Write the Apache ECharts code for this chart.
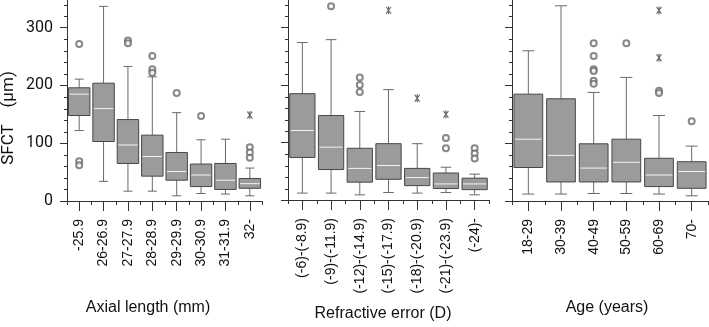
<!DOCTYPE html>
<html>
<head>
<meta charset="utf-8">
<script src="https://cdn.jsdelivr.net/npm/echarts@6/dist/echarts.min.js"></script>
<style>
  html, body { margin: 0; padding: 0; background: #fff; }
  #chart { width: 709px; height: 327px; }
</style>
</head>
<body>
<div id="chart"></div>
<script>
// categories
const axialCats = ['-25.9', '26-26.9', '27-27.9', '28-28.9', '29-29.9', '30-30.9', '31-31.9', '32-'];
const refrCats = ['(-6)-(-8.9)', '(-9)-(-11.9)', '(-12)-(-14.9)', '(-15)-(-17.9)', '(-18)-(-20.9)', '(-21)-(-23.9)', '(-24)-'];
const ageCats = ['18-29', '30-39', '40-49', '50-59', '60-69', '70-'];

// boxes: [low whisker, Q1, median, Q3, high whisker]
const axialBoxes = [
    [122, 148, 185, 196, 211],
    [34, 103, 160, 204, 337],
    [17, 65, 97, 141, 233],
    [17, 43, 77, 114, 215],
    [9, 36, 51, 84, 153],
    [13, 25, 45, 64, 106],
    [12, 20, 36, 65, 107],
    [9, 22, 30, 39, 57]
];
const refrBoxes = [
    [12, 74, 121, 185, 274],
    [12, 53, 92, 147, 279],
    [9, 31, 55, 90, 154],
    [13, 36, 60, 98, 192],
    [12, 25, 39, 55, 98],
    [13, 20, 28, 47, 57],
    [9, 18, 28, 38, 45]
];
const ageBoxes = [
    [12, 58, 107, 185, 260],
    [12, 33, 79, 177, 338],
    [13, 33, 57, 99, 188],
    [13, 33, 67, 107, 214],
    [12, 25, 45, 74, 148],
    [9, 22, 51, 68, 95]
];

// outliers (circles) and extremes (stars): [category index, value]
const axialOutliers = [[0, 272], [0, 69], [0, 62], [2, 278], [2, 273], [3, 251], [3, 228], [3, 222], [4, 187], [5, 147], [7, 93], [7, 84], [7, 75]];
const axialStars = [[7, 149]];
const refrOutliers = [[1, 337], [2, 213], [2, 200], [2, 188], [5, 108], [5, 90], [6, 90], [6, 81], [6, 72]];
const refrStars = [[3, 330], [4, 177], [5, 149]];
const ageOutliers = [[2, 273], [2, 251], [2, 228], [2, 225], [2, 208], [2, 203], [3, 273], [4, 191], [4, 187], [5, 138]];
const ageStars = [[4, 330], [4, 248]];

// y axis ticks
const yTicks = [0, 100, 200, 300];
const yMinorTicks = [20, 40, 60, 80, 120, 140, 160, 180, 220, 240, 260, 280, 320, 340];

const chart = echarts.init(document.getElementById('chart'));

const axisColor = '#333';
const starPath = 'path://M-0.6,-5 L0.6,-5 L0.6,5 L-0.6,5 Z M-3.02,-4.03 L-1.98,-4.63 L3.02,4.03 L1.98,4.63 Z M1.98,-4.63 L3.02,-4.03 L-1.98,4.63 L-3.02,4.03 Z';

const grids = [
    {left: 67, width: 195, top: 0, height: 201},
    {left: 288, width: 201, top: 0, height: 201},
    {left: 512, width: 196, top: 0, height: 201}
];

const panels = [
    {cats: axialCats, boxes: axialBoxes, outliers: axialOutliers, stars: axialStars, name: 'Axial length (mm)', gap: 99, pad: 33},
    {cats: refrCats, boxes: refrBoxes, outliers: refrOutliers, stars: refrStars, name: 'Refractive error (D)', gap: 106, pad: 11},
    {cats: ageCats, boxes: ageBoxes, outliers: ageOutliers, stars: ageStars, name: 'Age (years)', gap: 99, pad: 6}
];

function renderBox(params, api) {
    const x = api.value(0);
    const lo = api.coord([x, api.value(1)]);
    const q1 = api.coord([x, api.value(2)]);
    const md = api.coord([x, api.value(3)]);
    const q3 = api.coord([x, api.value(4)]);
    const hi = api.coord([x, api.value(5)]);
    const band = api.size([1, 0])[0];
    const w = band * 0.88;
    const cap = w * 0.42;
    const cx = lo[0];
    const whisker = {stroke: '#6a6a6a', lineWidth: 1};
    return {
        type: 'group',
        children: [
            {type: 'line', shape: {x1: cx, y1: hi[1], x2: cx, y2: q3[1]}, style: whisker},
            {type: 'line', shape: {x1: cx, y1: q1[1], x2: cx, y2: lo[1]}, style: whisker},
            {type: 'line', shape: {x1: cx - cap / 2, y1: hi[1], x2: cx + cap / 2, y2: hi[1]}, style: whisker},
            {type: 'line', shape: {x1: cx - cap / 2, y1: lo[1], x2: cx + cap / 2, y2: lo[1]}, style: whisker},
            {
                type: 'rect',
                shape: {x: cx - w / 2, y: q3[1], width: w, height: q1[1] - q3[1]},
                style: {fill: '#9b9b9b', stroke: '#474747', lineWidth: 1}
            },
            {type: 'line', shape: {x1: cx - w / 2 + 1, y1: md[1], x2: cx + w / 2 - 1, y2: md[1]}, style: {stroke: '#f4f4f4', lineWidth: 1}}
        ]
    };
}

// small ticks on the y axis, placed through the y scale
function renderYMinor(params, api) {
    const y = Math.round(api.coord([0, api.value(1)])[1]) + 0.5;
    const x0 = Math.round(params.coordSys.x);
    return {
        type: 'line',
        shape: {x1: x0 - 3, y1: y, x2: x0, y2: y},
        style: {stroke: axisColor, lineWidth: 1}
    };
}

// small ticks between categories on the x axis
function renderXMinor(params, api) {
    const k = api.value(0);
    const c = api.coord([k, 0]);
    const half = api.size([1, 0])[0] / 2;
    const yb = Math.round(params.coordSys.y + params.coordSys.height);
    const xs = [c[0] - half];
    if (k === params.dataInsideLength - 1) xs.push(c[0] + half);
    return {
        type: 'group',
        children: xs.map(x => ({
            type: 'line',
            shape: {x1: Math.round(x) + 0.5, y1: yb, x2: Math.round(x) + 0.5, y2: yb + 4},
            style: {stroke: axisColor, lineWidth: 1}
        }))
    };
}

const xAxes = [];
const yAxes = [];
const series = [];

panels.forEach((p, i) => {
    xAxes.push({
        type: 'category',
        gridIndex: i,
        data: p.cats,
        boundaryGap: true,
        name: p.name,
        nameLocation: 'middle',
        nameGap: p.gap,
        nameTextStyle: {fontFamily: 'Liberation Sans, Arial', fontSize: 16, color: '#111', padding: [0, p.pad, 0, 0]},
        axisLine: {lineStyle: {color: axisColor, width: 1}},
        axisTick: {show: true, alignWithLabel: true, inside: false, length: 10, lineStyle: {color: axisColor}},
        axisLabel: {rotate: 90, margin: 18, interval: 0, fontFamily: 'Liberation Sans, Arial', fontSize: 14, color: '#111'},
        splitLine: {show: false}
    });
    yAxes.push({
        type: 'value',
        gridIndex: i,
        min: 0,
        max: 348,
        interval: 100,
        axisLine: {show: true, lineStyle: {color: axisColor, width: 1}},
        axisTick: {show: true, inside: false, length: 7, customValues: yTicks, lineStyle: {color: axisColor}},
        axisLabel: {show: i === 0, customValues: yTicks, margin: 14, fontFamily: 'Roboto', fontSize: 16, color: '#111'},
        splitLine: {show: false}
    });
    series.push({
        type: 'custom',
        xAxisIndex: i,
        yAxisIndex: i,
        renderItem: renderBox,
        encode: {x: 0, y: [1, 2, 3, 4, 5]},
        data: p.boxes.map((b, k) => [k].concat(b)),
        silent: true
    });
    series.push({
        type: 'scatter',
        xAxisIndex: i,
        yAxisIndex: i,
        symbol: 'emptyCircle',
        symbolSize: 6,
        itemStyle: {color: '#6a6a6a', borderWidth: 1},
        data: p.outliers,
        silent: true
    });
    series.push({
        type: 'scatter',
        xAxisIndex: i,
        yAxisIndex: i,
        symbol: starPath,
        symbolSize: [6, 8],
        itemStyle: {color: '#444'},
        data: p.stars,
        silent: true
    });
    series.push({
        type: 'custom',
        xAxisIndex: i,
        yAxisIndex: i,
        renderItem: renderYMinor,
        encode: {x: 0, y: 1},
        clip: false,
        data: yMinorTicks.map(v => [0, v]),
        silent: true
    });
    series.push({
        type: 'custom',
        xAxisIndex: i,
        yAxisIndex: i,
        renderItem: renderXMinor,
        encode: {x: 0, y: 1},
        clip: false,
        data: p.cats.map((c, k) => [k, 0]),
        silent: true
    });
});

const option = {
    backgroundColor: '#fff',
    animation: false,
    grid: grids,
    xAxis: xAxes,
    yAxis: yAxes,
    series: series,
    graphic: [{
        type: 'text',
        x: 9,
        y: 118,
        rotation: Math.PI / 2,
        style: {
            text: 'SFCT    (μm)',
            fontFamily: 'Roboto',
            fontSize: 17,
            fill: '#111',
            align: 'center',
            verticalAlign: 'middle'
        }
    }]
};

chart.setOption(option);
</script>
</body>
</html>
